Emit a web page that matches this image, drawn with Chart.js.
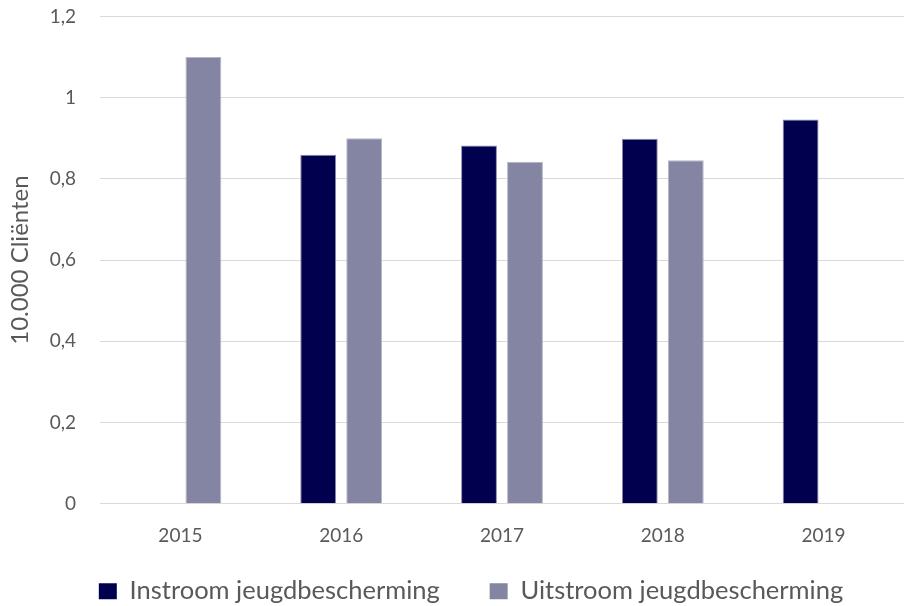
<!DOCTYPE html>
<html><head><meta charset="utf-8">
<script src="https://cdn.jsdelivr.net/npm/chart.js@4/dist/chart.umd.min.js"></script>
<style>html,body{margin:0;padding:0;background:#fff}#wrap{width:904px;height:606px}</style>
</head><body><div id="wrap"><canvas id="c" width="904" height="606"></canvas></div>
<script>
const categories = ['2015','2016','2017','2018','2019'];
const instroom = [null, 0.859, 0.882, 0.899, 0.946];
const uitstroom = [1.1, 0.9, 0.842, 0.846, null];
const seriesNames = ['Instroom jeugdbescherming', 'Uitstroom jeugdbescherming'];
const yTicks = [0, 0.2, 0.4, 0.6, 0.8, 1, 1.2];
const axisTitle = '10.000 Cliënten';

const FONT = 'Lato, "Open Sans", sans-serif';
new Chart(document.getElementById('c'), {
  type: 'bar',
  data: {
    labels: categories,
    datasets: [
      {label: seriesNames[0], data: instroom, backgroundColor: '#00004F', borderColor: '#8a8aa8', borderWidth: 1, barPercentage: 0.78, categoryPercentage: 0.572},
      {label: seriesNames[1], data: uitstroom, backgroundColor: '#8485A2', borderColor: '#b5b6c8', borderWidth: 1, barPercentage: 0.78, categoryPercentage: 0.572}
    ]
  },
  options: {
    responsive: false,
    animation: false,
    layout: {padding: {top: 2, right: 0, left: 38, bottom: -8}},
    plugins: {
      tooltip: {enabled: false},
      legend: {
        position: 'bottom',
        labels: {
          color: '#595959',
          font: {family: FONT, size: 25.5},
          boxWidth: 18, boxHeight: 16, padding: 18,
          generateLabels: (chart) => {
            const items = Chart.defaults.plugins.legend.labels.generateLabels(chart);
            items.forEach((it, i) => {
              it.lineWidth = 0;
              it.strokeStyle = 'rgba(0,0,0,0)';
              if (i === 0) it.text = it.text + '\u2003\u2002';
            });
            return items;
          }
        }
      }
    },
    scales: {
      x: {
        grid: {display: false},
        border: {display: false},
        ticks: {color: '#595959', font: {family: FONT, size: 19}, padding: 13}
      },
      y: {
        min: 0, max: 1.2,
        afterBuildTicks: (s) => { s.ticks = yTicks.map(v => ({value: v})); },
        afterFit: (s) => { s.width = 62; },
        grid: {color: '#d9d9d9', lineWidth: 1, drawTicks: true, tickLength: 19, tickColor: 'rgba(0,0,0,0)'},
        border: {display: false},
        ticks: {color: '#595959', font: {family: FONT, size: 19}, padding: 5,
          callback: (v) => String(Math.round(v*10)/10).replace('.', ',')},
        title: {display: true, text: axisTitle, color: '#595959', font: {family: FONT, size: 24}, padding: {top: -32, bottom: 0}}
      }
    }
  }
});
</script></body></html>
